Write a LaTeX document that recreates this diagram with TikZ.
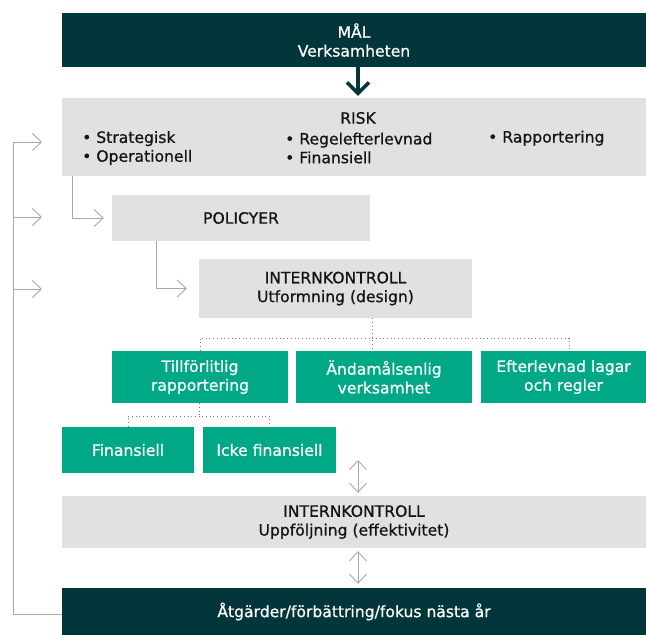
\documentclass[tikz,border=0pt]{standalone}
\usepackage{fontspec}
\setmainfont{DejaVu Sans}[RawFeature={embolden=0.7}]
\usetikzlibrary{arrows.meta}
\definecolor{darkteal}{HTML}{03363A}
\definecolor{mgreen}{HTML}{00A886}
\definecolor{lgray}{HTML}{E1E1E1}
\definecolor{lineg}{HTML}{A8A8A8}
\definecolor{dotg}{HTML}{7A7A7A}
\definecolor{txt}{HTML}{141414}
\tikzset{
 basefont/.style={font=\fontsize{15.6}{18.8}\selectfont},
 bx/.style 2 args={rectangle, inner sep=0pt, minimum width=#1pt, minimum height=#2pt, align=center, basefont},
 darkbox/.style={fill=darkteal, text=white},
 graybox/.style={fill=lgray, text=txt},
 greenbox/.style={fill=mgreen, text=white},
 lbl/.style={inner sep=0pt, align=left, basefont, text=txt},
 gline/.style={draw=lineg, line width=0.9pt},
 garrow/.style={gline, -{Straight Barb[length=9pt,width=17pt]}},
 gdarrow/.style={gline, {Straight Barb[length=9pt,width=17pt]}-{Straight Barb[length=9pt,width=17pt]}},
 dotl/.style={draw=dotg, line width=0.9pt, dash pattern=on 1pt off 2.7pt},
 bigarrow/.style={draw=darkteal, line width=3.5pt, -{Straight Barb[length=11pt,width=22pt]}},
}
\begin{document}
\begin{tikzpicture}[x=1pt,y=-1pt]
\useasboundingbox (0,0) rectangle (646,635);
% boxes
\node[bx={584}{54}, darkbox] (mal) at (354,40) {MÅL\\Verksamheten};
\node[bx={584}{78}, graybox] (risk) at (354,137) {};
\node[lbl] (risktitle) at (358,118) {RISK};
\node[lbl, anchor=west] (riskA) at (82,148) {• Strategisk\\• Operationell};
\node[lbl, anchor=west] (riskB) at (285,148) {• Regelefterlevnad\\• Finansiell};
\node[lbl, anchor=base west] (riskC) at (488,142.5) {• Rapportering};
\node[bx={258}{46}, graybox] (policy) at (241,218) {POLICYER};
\node[bx={273}{59}, graybox] (design) at (335.5,288.5) {INTERNKONTROLL\\Utformning (design)};
\node[bx={176}{52}, greenbox] (g1) at (200,377) {Tillförlitlig\\rapportering};
\node[bx={176}{52}, greenbox] (g2) at (384,377) {Ändamålsenlig\\verksamhet};
\node[bx={165}{52}, greenbox] (g3) at (563.5,377) {Efterlevnad lagar\\och regler};
\node[bx={132}{46}, greenbox] (fin) at (128,450) {Finansiell};
\node[bx={133}{46}, greenbox] (icke) at (269.5,450) {Icke finansiell};
\node[bx={584}{52}, graybox] (follow) at (354,522) {INTERNKONTROLL\\Uppföljning (effektivitet)};
\node[bx={584}{47}, darkbox] (action) at (354,611.5) {Åtgärder/förbättring/fokus nästa år};
% main arrow
\draw[bigarrow] (mal.south -| risktitle) -- ([yshift=2pt]risk.north -| risktitle);
% feedback loop
\coordinate (fbc) at (13,142);
\coordinate (fb1) at (42,142);
\coordinate (fb2) at (42,217);
\coordinate (fb3) at (42,289);
\draw[gline] ([yshift=-2.5pt]action.west) -| (fbc);
\draw[garrow] (fbc) -- (fb1);
\draw[garrow] (fbc |- fb2) -- (fb2);
\draw[garrow] (fbc |- fb3) -- (fb3);
% cascade
\draw[garrow] ([xshift=11pt]risk.south west) |- ([xshift=-8pt]policy.west);
\draw[garrow] ([xshift=45pt]policy.south west) |- ([xshift=-12pt]design.west);
% dotted tree 1
\coordinate (d1) at (372,338);
\draw[dotl] (design.south -| d1) -- (g2.north -| d1);
\draw[dotl] (g1.north) -- (g1.north |- d1) -- ([xshift=5.5pt]g3.north |- d1) -- ([xshift=5.5pt]g3.north);
% dotted tree 2
\coordinate (d2) at (199,416);
\draw[dotl] ([xshift=-1pt]g1.south) -- ([xshift=-1pt]g1.south |- d2);
\draw[dotl] (fin.north) -- (fin.north |- d2) -- (icke.north |- d2) -- (icke.north);
% double arrows
\coordinate (da) at (358,460);
\draw[gdarrow] (da) -- ([yshift=3pt]follow.north -| da);
\draw[gdarrow] ([yshift=-3pt]follow.south -| da) -- ([yshift=4pt]action.north -| da);
\end{tikzpicture}
\end{document}
